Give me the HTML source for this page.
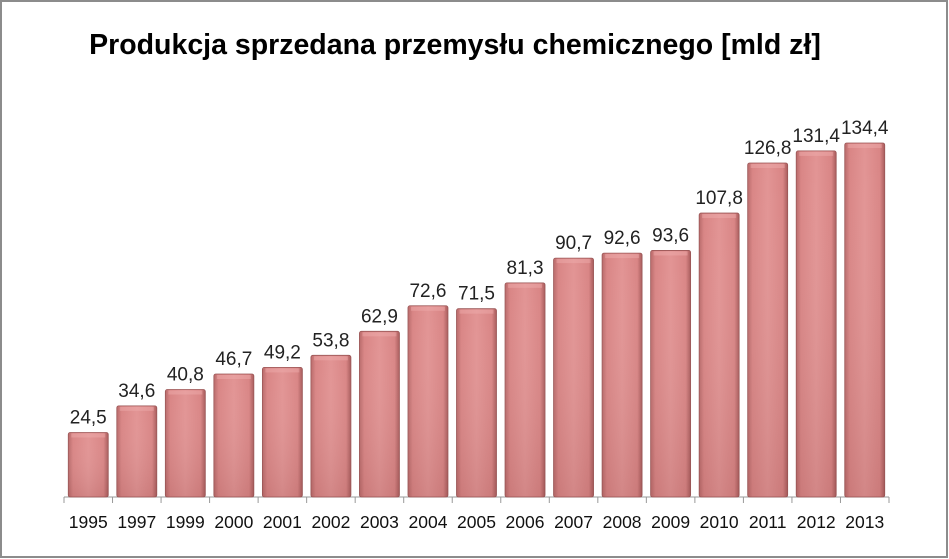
<!DOCTYPE html>
<html><head><meta charset="utf-8"><style>
html,body{margin:0;padding:0;background:#fff;}
svg{display:block;font-family:"Liberation Sans",sans-serif;}
</style></head><body>
<svg id="chart" width="949" height="559">
<defs>
<linearGradient id="barGrad" x1="0" x2="1" y1="0" y2="0">
<stop offset="0" stop-color="#b86a6a"/><stop offset="0.12" stop-color="#d98585"/><stop offset="0.5" stop-color="#e29494"/><stop offset="0.88" stop-color="#d98585"/><stop offset="1" stop-color="#a85c5c"/>
</linearGradient>
<linearGradient id="barV" x1="0" x2="0" y1="0" y2="1">
<stop offset="0" stop-color="#fff" stop-opacity="0"/><stop offset="1" stop-color="#7a3a3a" stop-opacity="0.15"/>
</linearGradient>
</defs>
<rect x="1" y="1" width="946" height="556" fill="#fff" stroke="#8c8c8c" stroke-width="2"/>
<text x="455" y="54" text-anchor="middle" font-size="28.5" font-weight="bold" fill="#000">Produkcja sprzedana przemysłu chemicznego [mld zł]</text>
<g id="plot"></g>
</svg>
<script>
const categories=["1995","1997","1999","2000","2001","2002","2003","2004","2005","2006","2007","2008","2009","2010","2011","2012","2013"];
const values=[24.5,34.6,40.8,46.7,49.2,53.8,62.9,72.6,71.5,81.3,90.7,92.6,93.6,107.8,126.8,131.4,134.4];
const valueLabels=["24,5","34,6","40,8","46,7","49,2","53,8","62,9","72,6","71,5","81,3","90,7","92,6","93,6","107,8","126,8","131,4","134,4"];
const NS="http://www.w3.org/2000/svg";
const g=document.getElementById('plot');
const x0=64,x1=889,baseY=497,pxPer=2.634;
const step=(x1-x0)/categories.length, bw=40;
const xPos=i=>x0+i*step;
const yPos=v=>baseY-v*pxPer;
function mk(t,a){const e=document.createElementNS(NS,t);for(const k in a)e.setAttribute(k,a[k]);g.appendChild(e);return e;}
const axis=mk('line',{x1:x0,x2:x1,y1:baseY,y2:baseY,stroke:'#999','stroke-width':1});


for(let i=0;i<=categories.length;i++){
 const t=mk('line',{x1:xPos(i),x2:xPos(i),y1:baseY,y2:baseY+6,stroke:'#999'});
 
 
}
categories.forEach((c,i)=>{
 const cx=xPos(i)+step/2, top=yPos(values[i]);
 const b=mk('rect',{x:cx-bw/2,y:top,width:bw,height:baseY-top,fill:'url(#barGrad)',stroke:'#9a5656','stroke-width':0.8,rx:2});
 
 
 mk('rect',{x:cx-bw/2,y:top,width:bw,height:baseY-top,fill:'url(#barV)'});
 mk('rect',{x:cx-bw/2+3,y:top+1,width:bw-6,height:4,fill:'#f0b0b0',opacity:0.45});
 const l=mk('text',{x:cx,y:top-9,'text-anchor':'middle','font-size':19,fill:'#222'});
 l.textContent=valueLabels[i];
 
 
 const xl=mk('text',{x:cx,y:528,'text-anchor':'middle','font-size':17.5,fill:'#111'});
 xl.textContent=c;
 
 
});
</script>
</body></html>
